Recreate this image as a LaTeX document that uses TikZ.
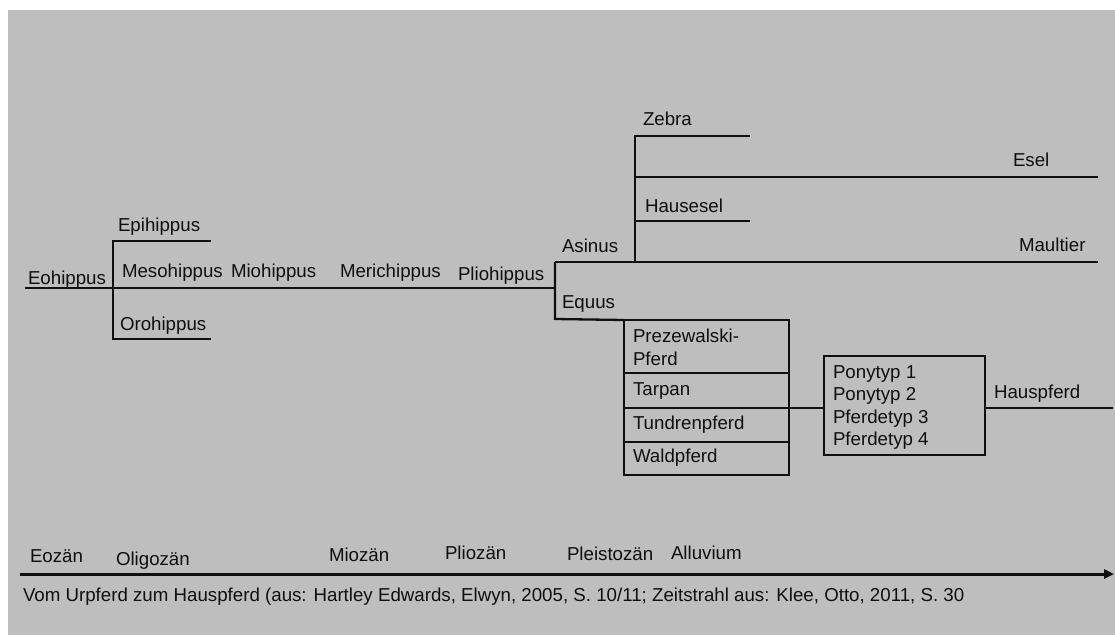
\documentclass[tikz,border=0pt]{standalone}
\usepackage{fontspec}
\setmainfont{Liberation Sans}
\usetikzlibrary{arrows.meta}
\definecolor{bg}{RGB}{190,190,190}
\definecolor{ink}{RGB}{15,15,15}
\begin{document}
\begin{tikzpicture}[x=1pt,y=-1pt,
  lbl/.style={anchor=base west, inner sep=0pt, outer sep=0pt, font=\fontsize{18.7}{22}\selectfont, text=ink},
  ln/.style={line width=2.3pt, draw=ink},
  bx/.style={draw=ink, line width=2.3pt, inner sep=0pt, outer sep=0pt, anchor=north west}]
\useasboundingbox (0,0) rectangle (1115,635);
\fill[bg] (8,10) rectangle (1115,635);

% branch coordinates
\coordinate (eo0) at (25,288);
\coordinate (f1) at (113,288);
\coordinate (f1t) at (113,241);
\coordinate (f1b) at (113,339);
\coordinate (epiE) at (211,241);
\coordinate (oroE) at (211,339);
\coordinate (f2) at (555,288);
\coordinate (f2t) at (555,262);
\coordinate (f2b) at (555,319);
\coordinate (f3) at (635,262);
\coordinate (f3t) at (635,136);
\coordinate (zebE) at (750,136);
\coordinate (eselS) at (635,177);
\coordinate (eselE) at (1098,177);
\coordinate (hausS) at (635,221);
\coordinate (hausE) at (750,221);
\coordinate (maulE) at (1098,262);
\coordinate (hpE) at (1113,408);
\coordinate (tl0) at (20,574);
\coordinate (tl1) at (1114,574);

% labels
\node[lbl] (eoh) at (28,284) {Eohippus};
\node[lbl] (epi) at (118,231) {Epihippus};
\node[lbl] (meso) at (122,277) {Mesohippus};
\node[lbl] (mio) at (231,277) {Miohippus};
\node[lbl] (oro) at (120,330) {Orohippus};
\node[lbl] (meri) at (340,277) {Merichippus};
\node[lbl] (plio) at (458,280) {Pliohippus};
\node[lbl] (asi) at (562,252) {Asinus};
\node[lbl] (equ) at (562,308) {Equus};
\node[lbl] (zeb) at (643,125) {Zebra};
\node[lbl] (esel) at (1013,166) {Esel};
\node[lbl] (haus) at (645,212) {Hausesel};
\node[lbl] (maul) at (1019,251) {Maultier};

% boxes
\node[bx, minimum width=165pt, minimum height=53pt] (prz) at (624,320) {};
\node[bx, minimum width=165pt, minimum height=35pt] (tar) at (624,373) {};
\node[bx, minimum width=165pt, minimum height=34pt] (tun) at (624,408) {};
\node[bx, minimum width=165pt, minimum height=33pt] (wal) at (624,442) {};
\node[lbl] (przT) at (633,342) {Prezewalski-};
\node[lbl] (przT2) at (633,365) {Pferd};
\node[lbl] (tarT) at (633,395) {Tarpan};
\node[lbl] (tunT) at (633,429) {Tundrenpferd};
\node[lbl] (walT) at (633,462) {Waldpferd};

\node[bx, minimum width=161pt, minimum height=99pt] (pony) at (824,356) {};
\node[lbl] (p1) at (833,378) {Ponytyp 1};
\node[lbl] (p2) at (833,400) {Ponytyp 2};
\node[lbl] (p3) at (833,423) {Pferdetyp 3};
\node[lbl] (p4) at (833,445) {Pferdetyp 4};
\node[lbl] (hp) at (994,398) {Hauspferd};

% connectors
\draw[ln] (eo0) -- (f1) -- (f2);
\draw[ln] (epiE) -- (f1t) -- (f1b) -- (oroE);
\draw[ln] (f2t) -- (f2b) -- (prz.north west);
\draw[ln] (f2t) -- (f3) -- (maulE);
\draw[ln] (f3) -- (f3t) -- (zebE);
\draw[ln] (eselS) -- (eselE);
\draw[ln] (hausS) -- (hausE);
\draw[ln] (tun.north east) -- (tun.north east -| pony.west);
\draw[ln] (tun.north east -| pony.east) -- (hpE);

% timeline
\node[lbl] (eoz) at (30,562) {Eozän};
\node[lbl] (oli) at (116,565) {Oligozän};
\node[lbl] (mioz) at (329,561) {Miozän};
\node[lbl] (plioz) at (445,559) {Pliozän};
\node[lbl] (pleis) at (567,560) {Pleistozän};
\node[lbl] (allu) at (671,559) {Alluvium};
\draw[line width=3pt, draw=ink, -{Triangle[length=10pt,width=9pt]}] (tl0) -- (tl1);

\node[lbl] (cap) at (23,601) {Vom Urpferd zum Hauspferd (aus: Hartley Edwards, Elwyn, 2005, S. 10/11; Zeitstrahl aus: Klee, Otto, 2011, S. 30};
\end{tikzpicture}
\end{document}
